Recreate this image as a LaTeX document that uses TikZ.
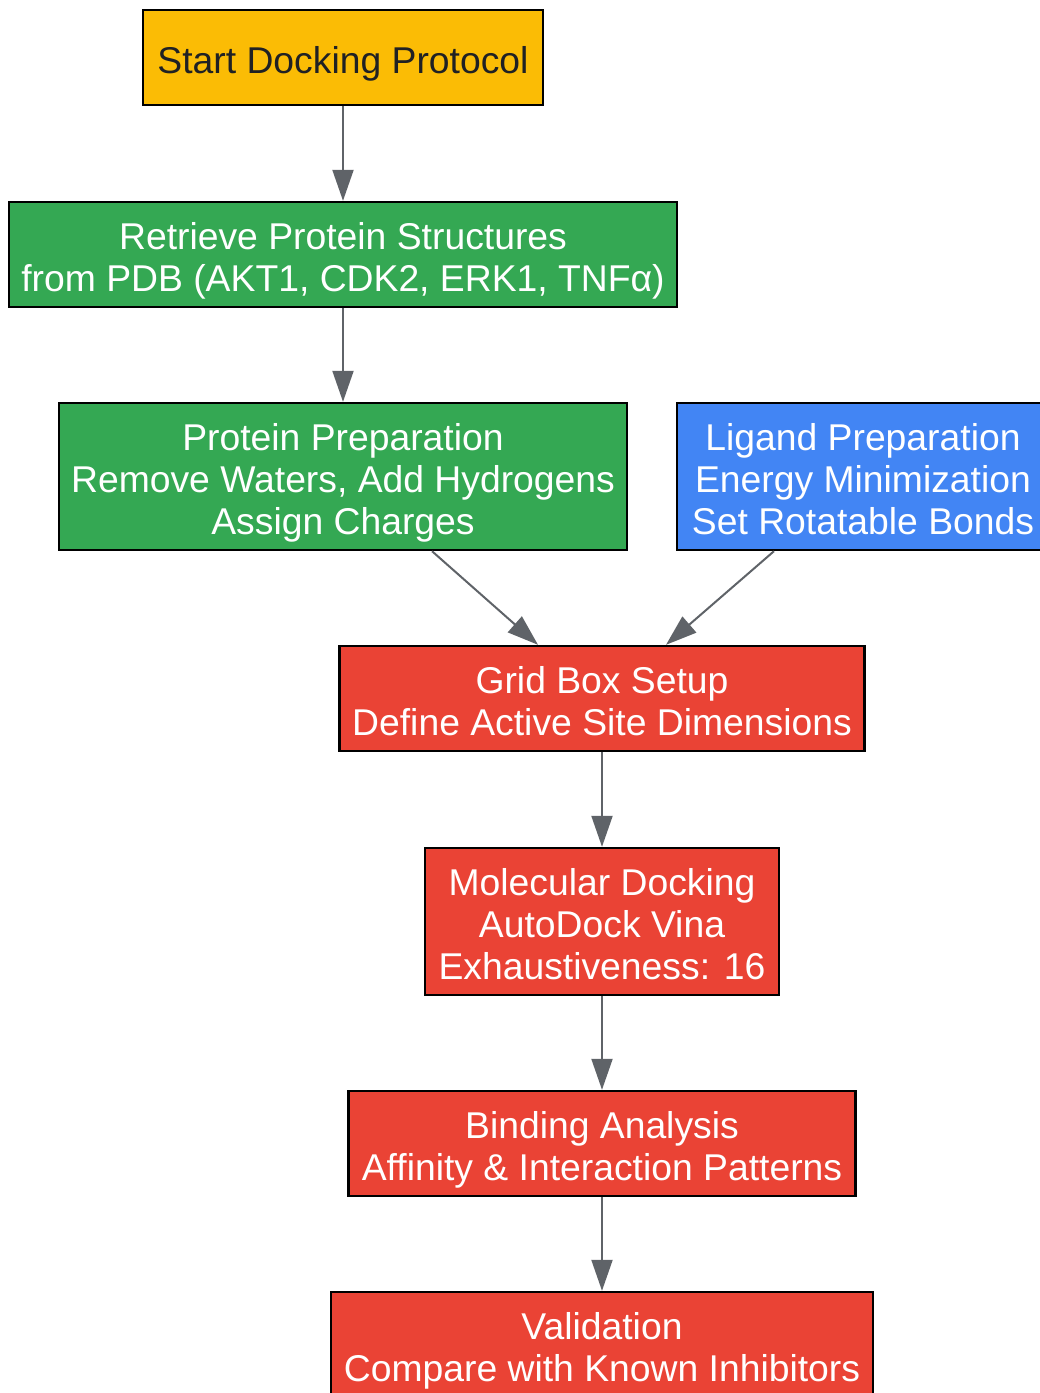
\documentclass[tikz,border=0pt]{standalone}
\usepackage{fontspec}
\setmainfont{Liberation Sans}
\usetikzlibrary{arrows.meta}
\definecolor{gyellow}{HTML}{FBBC05}
\definecolor{ggreen}{HTML}{34A853}
\definecolor{gblue}{HTML}{4285F4}
\definecolor{gred}{HTML}{EA4335}
\definecolor{ggray}{HTML}{5F6368}
\definecolor{gdark}{HTML}{202124}
\newcommand{\boxtext}[1]{\raisebox{-8pt}[\height][\depth]{\begin{tabular}{@{}c@{}}#1\end{tabular}}}
\begin{document}
\begin{tikzpicture}[x=1pt,y=-1pt,
    box/.style={draw=black,line width=2.4pt,rectangle,inner sep=0pt,
      font=\fontsize{37.3}{42}\selectfont,text=white},
    flow/.style={draw=ggray,line width=2pt,-{Triangle[length=31pt,width=21pt]}}]
    \useasboundingbox (0,0) rectangle (1040,1393);
    \node [box,fill=gyellow,text=gdark,minimum width=400pt,minimum height=95pt] (start) at (343,57.5) {\boxtext{Start Docking Protocol}};
    \node [box,fill=ggreen,minimum width=668pt,minimum height=105pt] (retrieve) at (343,254.5) {\boxtext{Retrieve Protein Structures\\from PDB (AKT1, CDK2, ERK1, TNFα)}};
    \node [box,fill=ggreen,minimum width=568pt,minimum height=147pt] (protprep) at (343,476.5) {\boxtext{Protein Preparation\\Remove Waters, Add Hydrogens\\Assign Charges}};
    \node [box,fill=gblue,minimum width=372pt,minimum height=147pt] (ligprep) at (863,476.5) {\boxtext{Ligand Preparation\\Energy Minimization\\Set Rotatable Bonds}};
    \node [box,fill=gred,minimum width=525pt,minimum height=105pt] (grid) at (602,698.5) {\boxtext{Grid Box Setup\\Define Active Site Dimensions}};
    \node [box,fill=gred,minimum width=354pt,minimum height=147pt] (docking) at (602,921.5) {\boxtext{Molecular Docking\\AutoDock Vina\\Exhaustiveness: 16}};
    \node [box,fill=gred,minimum width=507pt,minimum height=105pt] (binding) at (602,1143.5) {\boxtext{Binding Analysis\\Affinity \& Interaction Patterns}};
    \node [box,fill=gred,minimum width=542pt,minimum height=105pt] (valid) at (602,1344.5) {\boxtext{Validation\\Compare with Known Inhibitors}};
    \draw [flow] (start) -- (retrieve);
    \draw [flow] (retrieve) -- (protprep);
    \draw [flow] (protprep.-40) -- (grid.140);
    \draw [flow] (ligprep.220) -- (grid.40);
    \draw [flow] (grid) -- (docking);
    \draw [flow] (docking) -- (binding);
    \draw [flow] (binding) -- (valid);
\end{tikzpicture}
\end{document}
